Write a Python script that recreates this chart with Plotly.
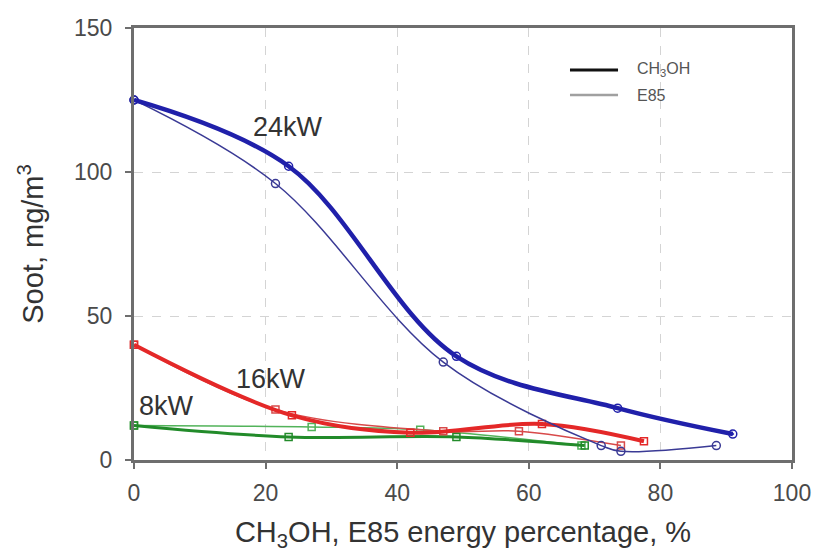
import plotly.graph_objects as go

# 24 kW
ch3oh_24_x = [0, 23.5, 49, 73.5, 91]
ch3oh_24_y = [125, 102, 36, 18, 9]
e85_24_x = [0, 21.5, 47, 71, 74, 88.5]
e85_24_y = [125, 96, 34, 5, 3, 5]
# 16 kW
ch3oh_16_x = [0, 24, 42, 62, 77.5]
ch3oh_16_y = [40, 15.5, 9.5, 12.5, 6.5]
e85_16_x = [0, 21.5, 47, 58.5, 74]
e85_16_y = [40, 17.5, 10, 10, 5]
# 8 kW
ch3oh_8_x = [0, 23.5, 49, 68.5]
ch3oh_8_y = [12, 8, 8, 5]
e85_8_x = [0, 27, 43.5, 68]
e85_8_y = [12, 11.5, 10.5, 5]

x_ticks = [0, 20, 40, 60, 80, 100]
y_ticks = [0, 50, 100, 150]

legend_names = ["CH<sub>3</sub>OH", "E85"]
legend_colors = ["#111111", "#a0a0a0"]
legend_widths = [3, 2.5]

FONT = "Liberation Sans, Arial, sans-serif"
BLUE = "#2020aa"
BLUE_THIN = "#3a3a95"
RED = "#e42828"
RED_THIN = "#d84a4a"
GREEN = "#228b2a"
GREEN_THIN = "#52b35a"

fig = go.Figure()

def add(x, y, color, width, symbol, msize):
    fig.add_trace(go.Scatter(
        x=x, y=y, mode="lines+markers",
        line=dict(color=color, width=width, shape="spline", smoothing=1.0),
        marker=dict(symbol=symbol, size=msize, color=color, line=dict(width=1.5, color=color)),
        showlegend=False, cliponaxis=False, hoverinfo="skip"))

add(e85_8_x, e85_8_y, GREEN_THIN, 1.5, "square-open", 7)
add(ch3oh_8_x, ch3oh_8_y, GREEN, 3, "square-open", 7)
add(e85_16_x, e85_16_y, RED_THIN, 1.5, "square-open", 7)
add(ch3oh_16_x, ch3oh_16_y, RED, 4, "square-open", 7)
add(e85_24_x, e85_24_y, BLUE_THIN, 1.5, "circle-open", 8)
add(ch3oh_24_x, ch3oh_24_y, BLUE, 4.5, "circle-open-dot", 8)

# manual legend (paper coordinates)
leg_x0, leg_x1, leg_tx = 0.6626, 0.7356, 0.7614
leg_ys = [0.9028, 0.8449]
for name, col, w, yy in zip(legend_names, legend_colors, legend_widths, leg_ys):
    fig.add_shape(type="line", xref="paper", yref="paper", x0=leg_x0, x1=leg_x1, y0=yy, y1=yy,
                  line=dict(color=col, width=w))
    fig.add_annotation(xref="paper", yref="paper", x=leg_tx, y=yy, text=name, showarrow=False,
                       xanchor="left", yanchor="middle",
                       font=dict(family=FONT, size=16, color="#555555"))

label_font = dict(family=FONT, size=27, color="#333333")
fig.add_annotation(x=23.4, y=115.6, text="24kW", showarrow=False, font=label_font)
fig.add_annotation(x=20.8, y=28, text="16kW", showarrow=False, font=label_font)
fig.add_annotation(x=4.9, y=18.7, text="8kW", showarrow=False, font=label_font)

axis_common = dict(
    showline=True, linecolor="#6e6e6e", linewidth=3, mirror=True,
    ticks="outside", ticklen=6, tickwidth=2, tickcolor="#6e6e6e",
    showgrid=True, gridcolor="#d4d4d4", gridwidth=1, griddash="dash",
    zeroline=False,
    tickfont=dict(family=FONT, size=23, color="#4a4a4a"),
)

fig.update_xaxes(range=[0, 100], tickvals=x_ticks, ticklabelstandoff=4, **axis_common,
                 title=dict(text="CH<sub>3</sub>OH, E85 energy percentage, %",
                            font=dict(family=FONT, size=29, color="#333333"),
                            standoff=18))
fig.update_yaxes(range=[0, 150], tickvals=y_ticks, ticklabelstandoff=8, **axis_common,
                 title=dict(text="Soot, mg/m<sup>3</sup>",
                            font=dict(family=FONT, size=29, color="#333333"),
                            standoff=22))

fig.update_layout(
    width=815, height=554,
    margin=dict(l=134, r=23, t=28, b=94, autoexpand=False),
    plot_bgcolor="white", paper_bgcolor="white",
    showlegend=False,
)

fig.write_html("out.html",
               config={"displayModeBar": False},
               post_script="document.body.style.margin='0';document.body.style.overflow='hidden';")
